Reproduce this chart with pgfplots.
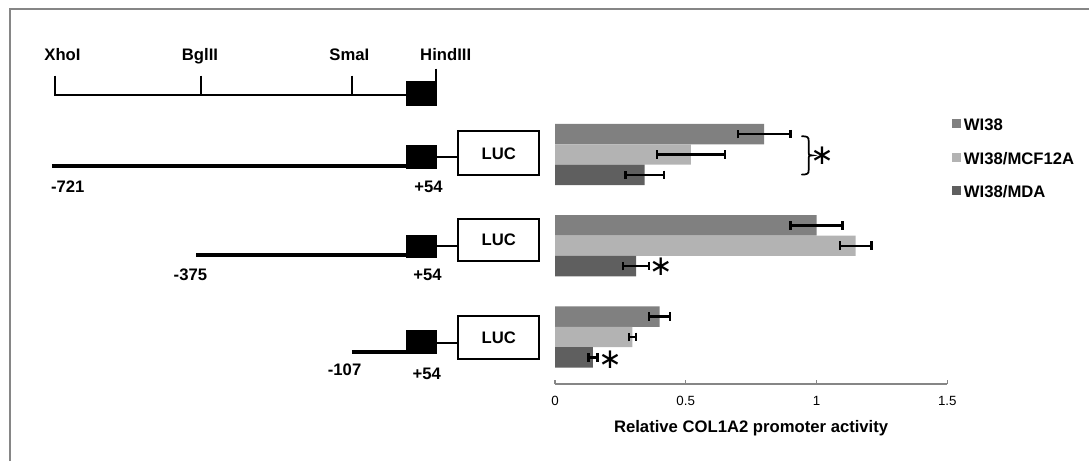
\documentclass[border=0pt]{standalone}
\usepackage{fontspec}
\setmainfont{Liberation Sans}
\newfontfamily\dejavu{DejaVu Sans}
\usepackage{pgfplots}
\usepackage{pgfplotstable}
\pgfplotsset{compat=1.18}
\definecolor{cA}{HTML}{808080}
\definecolor{cB}{HTML}{B3B3B3}
\definecolor{cC}{HTML}{5F5F5F}
\definecolor{framegray}{HTML}{868686}

% y: 2 = -721 construct, 1 = -375, 0 = -107
\pgfplotstableread{
y x ex
2 0.80 0.10
1 1.00 0.10
0 0.40 0.04
}\wiA
\pgfplotstableread{
y x ex
2 0.52 0.13
1 1.15 0.06
0 0.296 0.013
}\wiB
\pgfplotstableread{
y x ex
2 0.343 0.073
1 0.31 0.05
0 0.145 0.017
}\wiC

\newcommand{\lbf}{\bfseries\fontsize{12.5}{15}\selectfont}
\newcommand{\sigstar}{{\dejavu\fontsize{21}{21}\selectfont ∗}}
\pgfplotsset{
  myerr/.style={error bars/.cd, x dir=both, x explicit,
    error bar style={line width=1.8pt, draw=black},
    error mark=|,
    error mark options={line width=1.8pt, draw=black, mark size=3.2pt}},
}
\begin{document}
\begin{tikzpicture}
\useasboundingbox (0,0) rectangle (816.75pt,-345.75pt);
\begin{scope}[x=0.75pt,y=-0.75pt]
\draw[framegray, line width=1.5pt] (9.5,461) -- (9.5,9) -- (1089,9);
% restriction map
\draw[line width=1.5pt] (55.4,75.7) -- (55.4,95.4) -- (406,95.4);
\draw[line width=1.5pt] (201,75.7) -- (201,95.4);
\draw[line width=1.5pt] (351.8,75.7) -- (351.8,95.4);
\fill (406,81) rectangle (437,106);
\draw[line width=1.5pt] (436.4,68.6) -- (436.4,81);
\node[font=\lbf, anchor=base] at (62.5,60.3) {XhoI};
\node[font=\lbf, anchor=base] at (200,60.3) {BglII};
\node[font=\lbf, anchor=base] at (349.3,60.3) {SmaI};
\node[font=\lbf, anchor=base] at (445.7,60.3) {HindIII};
% row 1
\draw[line width=3pt] (51.8,165.7) -- (406,165.7);
\fill (406,145.4) rectangle (437,168.6);
\draw[line width=1.5pt] (437,157.1) -- (458.2,157.1);
\draw[line width=1.5pt] (458.2,131) rectangle (539.3,174.6);
\node[font=\lbf] at (498.8,153.6) {LUC};
\node[font=\lbf, anchor=base] at (67.8,192.4) {-721};
\node[font=\lbf, anchor=base] at (428.6,192.4) {+54};
% row 2
\draw[line width=3pt] (196.4,255.4) -- (406,255.4);
\fill (406,234.6) rectangle (437,257.9);
\draw[line width=1.5pt] (437,245.7) -- (458.2,245.7);
\draw[line width=1.5pt] (458.2,218.6) rectangle (539.3,261.4);
\node[font=\lbf] at (498.8,240) {LUC};
\node[font=\lbf, anchor=base] at (190.4,280.3) {-375};
\node[font=\lbf, anchor=base] at (427.5,280.3) {+54};
% row 3
\draw[line width=3pt] (351.8,351.8) -- (406,351.8);
\fill (406,330.4) rectangle (437,353.6);
\draw[line width=1.5pt] (437,342.9) -- (458.2,342.9);
\draw[line width=1.5pt] (458.2,316) rectangle (539.3,358.9);
\node[font=\lbf] at (498.8,337.5) {LUC};
\node[font=\lbf, anchor=base] at (344.6,375.6) {-107};
\node[font=\lbf, anchor=base] at (426.8,379.2) {+54};
\end{scope}

\begin{axis}[
  at={(416.25pt,-288pt)}, anchor=south west,
  width=294.2pt, height=213.2pt, scale only axis,
  xmin=0, xmax=1.5, ymin=-0.515, ymax=2.6,
  enlargelimits=false, clip=false,
  axis y line=none, axis x line*=bottom,
  x axis line style={-, draw=framegray, line width=1pt},
  xtick={0,0.5,1,1.5}, xtick align=inside, major tick length=3pt,
  xtick style={draw=framegray, line width=1pt},
  /pgf/number format/assume math mode=true,
  xticklabel style={font=\fontsize{10}{12}\selectfont, anchor=base, yshift=-16.1pt},
  xlabel={Relative COL1A2 promoter activity},
  xlabel style={font=\lbf, at={(axis description cs:0.5,0)}, anchor=base, yshift=-36.5pt},
  xbar, bar width=15.3pt,
  legend style={at={(axis description cs:1.0112,0.9347)}, anchor=north west,
    draw=none, fill=none, inner sep=0pt, outer sep=0pt, font=\lbf,
    row sep=12.5pt, column sep=2.5pt,
    nodes={inner sep=0pt, text height=9.5pt, text depth=3pt}},
  legend cell align=left,
  legend image code/.code={\fill[#1] (0pt,-1.2pt) rectangle (6.75pt,5.55pt);},
]
\addplot[fill=cA, draw=none, bar shift=15.3pt, myerr]
  table[x=x, y=y, x error=ex] {\wiA};
\addlegendentry{WI38}
\addplot[fill=cB, draw=none, bar shift=0pt, myerr]
  table[x=x, y=y, x error=ex] {\wiB};
\addlegendentry{WI38/MCF12A}
\addplot[fill=cC, draw=none, bar shift=-15.3pt, myerr]
  table[x=x, y=y, x error=ex] {\wiC};
\addlegendentry{WI38/MDA}
\draw[line width=1.3pt, line cap=round]
  (axis cs:0.944,2.20) .. controls (axis cs:0.966,2.20) and (axis cs:0.970,2.19) .. (axis cs:0.970,2.15)
  -- (axis cs:0.970,2.02) .. controls (axis cs:0.970,1.995) .. (axis cs:0.983,1.990)
  .. controls (axis cs:0.970,1.985) .. (axis cs:0.970,1.96)
  -- (axis cs:0.970,1.83) .. controls (axis cs:0.970,1.79) and (axis cs:0.966,1.78) .. (axis cs:0.944,1.78);
\node at (axis cs:1.021,1.984) {\sigstar};
\node at (axis cs:0.4045,0.770) {\sigstar};
\node at (axis cs:0.2105,-0.244) {\sigstar};
\end{axis}
\end{tikzpicture}
\end{document}
